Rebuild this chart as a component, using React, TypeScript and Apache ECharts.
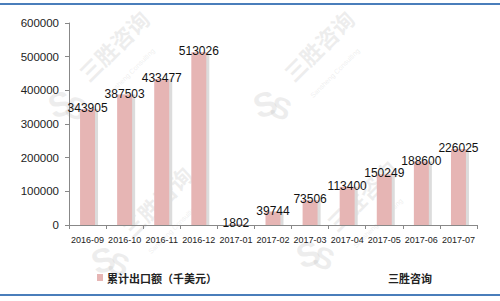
import React, { useEffect, useRef } from "react";
import * as echarts from "echarts";

const categories = [
  "2016-09", "2016-10", "2016-11", "2016-12", "2017-01", "2017-02",
  "2017-03", "2017-04", "2017-05", "2017-06", "2017-07",
];
const exportValues = [
  343905, 387503, 433477, 513026, 1802, 39744,
  73506, 113400, 150249, 188600, 226025,
];
const seriesName = "累计出口额（千美元）";
const sourceText = "三胜咨询";
const yTicks = { min: 0, max: 600000, interval: 100000 };

const FONT = "'Liberation Sans', 'Noto Sans CJK SC', sans-serif";
const CJK = "'Noto Sans CJK SC', 'Liberation Sans', sans-serif";
const WM = "rgba(185,185,185,0.25)";

// Diagonal brand watermark: logo plus rotated name and English subtitle
function watermark(x: number, y: number) {
  return {
    type: "group",
    x,
    y,
    z: 100,
    silent: true,
    children: [
      {
        type: "text",
        rotation: Math.PI / 4,
        style: {
          text: "三胜咨询",
          x: 0,
          y: 0,
          fill: WM,
          font: `bold 22px ${CJK}`,
          textVerticalAlign: "bottom",
        },
      },
      {
        type: "text",
        rotation: Math.PI / 4,
        x: 14,
        y: 10,
        style: {
          text: "Sansheng Consulting",
          x: 0,
          y: 0,
          fill: WM,
          font: `7px ${FONT}`,
        },
      },
      {
        type: "text",
        rotation: 0.35,
        x: -30,
        y: 20,
        style: {
          text: "S",
          x: 0,
          y: 0,
          fill: WM,
          font: `bold 34px ${FONT}`,
          textAlign: "center",
          textVerticalAlign: "middle",
        },
      },
      {
        type: "text",
        rotation: -0.35,
        x: -14,
        y: 24,
        style: {
          text: "S",
          x: 0,
          y: 0,
          fill: WM,
          font: `bold 30px ${FONT}`,
          textAlign: "center",
          textVerticalAlign: "middle",
        },
      },
    ],
  };
}

export default function App() {
  const ref = useRef<HTMLDivElement>(null);

  useEffect(() => {
    if (!ref.current) return;
    const chart = echarts.init(ref.current, null, { renderer: "svg" });
    chart.setOption({
      animation: false,
      backgroundColor: "#ffffff",
      grid: { left: 69, right: 23, top: 23, bottom: 76, outerBoundsMode: "none" },
      legend: {
        left: 97,
        top: 272,
        padding: 0,
        itemWidth: 6,
        itemHeight: 7,
        itemGap: 4,
        icon: "rect",
        textStyle: { fontSize: 11, fontWeight: "bold", color: "#222", fontFamily: CJK, padding: [0, 0, 0, -1] },
        data: [seriesName],
      },
      xAxis: {
        type: "category",
        data: categories,
        axisLine: { lineStyle: { color: "#888", width: 1 } },
        axisTick: { show: true, length: 4, lineStyle: { color: "#888" } },
        axisLabel: {
          fontSize: 9,
          color: "#222",
          margin: 10,
          fontFamily: FONT,
          interval: 0,
        },
      },
      yAxis: {
        type: "value",
        min: yTicks.min,
        max: yTicks.max,
        interval: yTicks.interval,
        axisLine: { show: true, lineStyle: { color: "#888" } },
        axisTick: { show: true, length: 4, lineStyle: { color: "#888" } },
        splitLine: { show: false },
        axisLabel: {
          fontSize: 11.5,
          color: "#222",
          margin: 10,
          fontFamily: FONT,
          formatter: (v: number) => String(v),
        },
      },
      series: [
        {
          name: seriesName,
          type: "bar",
          data: exportValues,
          barWidth: 15,
          itemStyle: {
            color: "#E6B5B4",
            shadowColor: "#dcdcdc",
            shadowOffsetX: 3,
            shadowOffsetY: 0,
            shadowBlur: 0,
          },
          label: {
            show: true,
            position: "top",
            distance: -5,
            fontSize: 12,
            color: "#111",
            fontFamily: FONT,
          },
        },
      ],
      graphic: [
        { type: "rect", shape: { x: 0, y: 3, width: 500, height: 2 }, style: { fill: "#4A7EBB" } },
        { type: "rect", shape: { x: 0, y: 294, width: 500, height: 2 }, style: { fill: "#4A7EBB" } },
        {
          type: "text",
          left: 388,
          top: 272,
          style: { text: sourceText, fill: "#222", font: `bold 11px ${CJK}` },
        },
        watermark(90, 84),
        watermark(295, 84),
        watermark(133, 240),
        watermark(338, 234),
      ],
    });
    return () => chart.dispose();
  }, []);

  return (
    <div
      ref={ref}
      style={{ position: "absolute", left: 0, top: 0, width: 500, height: 301 }}
    />
  );
}
